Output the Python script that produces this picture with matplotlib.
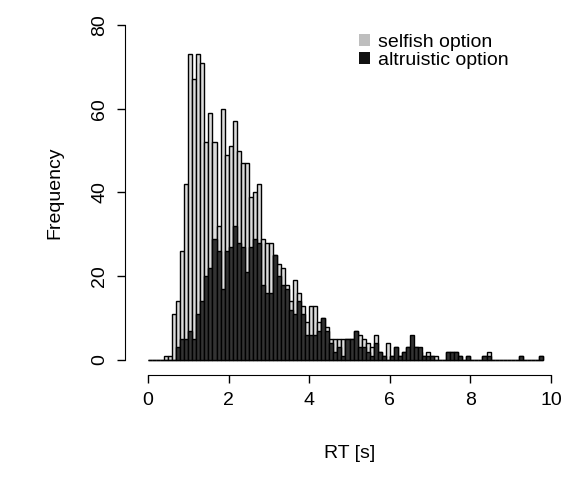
import matplotlib
matplotlib.use("Agg")
import matplotlib.pyplot as plt
from matplotlib.patches import Patch
import numpy as np

plt.rcParams['font.family'] = ['Liberation Sans', 'DejaVu Sans']

bin_width = 0.1
# counts per 0.1 s bin starting at 0.0
selfish = [0,0,0,0,1,1,11,14,26,42, 73,67,73,71,52,59,52,32,60,49,
           51,57,50,47,47,39,40,42,29,28, 28,25,23,22,18,14,19,16,13,9,
           13,13,9,10,8,5,5,5,5,5, 5,7,6,5,4,3,6,2,1,4,
           1,3,1,2,3,3,3,2,1,2, 1,1,0,0,2,2,2,1,0,1,
           0,0,0,1,2,0,0,0,0,0, 0,0,1,0,0,0,0,1,0,0]
altruistic = [0,0,0,0,0,0,0,3,5,5, 7,5,11,14,20,22,29,26,17,26,
              27,32,28,27,21,27,29,28,18,16, 16,25,20,18,17,12,11,14,11,6,
              6,6,7,10,7,4,2,3,1,5, 5,7,3,3,2,1,4,2,1,0,
              1,3,1,2,3,6,3,3,1,1, 1,0,0,0,2,2,2,1,0,1,
              0,0,0,1,1,0,0,0,0,0, 0,0,1,0,0,0,0,1,0,0]
max_nonzero = 98

edges = np.arange(len(selfish)) * bin_width

fig = plt.figure(figsize=(5.71, 4.99), dpi=100)
ax = fig.add_axes([148/571, 139/499, 403/571, 335/499])

n = max_nonzero
ax.bar(edges[:n], selfish[:n], width=bin_width, align='edge', color='#dcdcdc',
       edgecolor='black', linewidth=1.0, clip_on=False)
ax.bar(edges[:n], altruistic[:n], width=bin_width, align='edge', color='#333333',
       edgecolor='black', linewidth=1.0, clip_on=False)

ax.set_xlim(0, 10)
ax.set_ylim(0, 80)
for s in ['top', 'right']:
    ax.spines[s].set_visible(False)
ax.spines['left'].set_position(('outward', 16.5))
ax.spines['bottom'].set_position(('outward', 11))
ax.spines['left'].set_bounds(0, 80)
ax.spines['bottom'].set_bounds(0, 10)
ax.set_xticks([0, 2, 4, 6, 8, 10])
ax.set_yticks([0, 20, 40, 60, 80])
ax.tick_params(axis='both', labelsize=14, length=6, width=1, pad=6)
for lab in ax.get_yticklabels():
    lab.set_rotation(90)
    lab.set_va('center')
ax.set_xlabel('RT [s]', fontsize=14, labelpad=26)
ax.set_ylabel('Frequency', fontsize=14, labelpad=20)

handles = [Patch(facecolor='#bebebe', edgecolor='none'),
           Patch(facecolor='#111111', edgecolor='none')]
ax.legend(handles, ['selfish option', 'altruistic option'], loc='upper left',
          bbox_to_anchor=(0.48, 1.025), frameon=False, fontsize=14,
          handlelength=0.55, handleheight=0.55, handletextpad=0.45, labelspacing=0.05)

fig.savefig('out.png', dpi=100)
